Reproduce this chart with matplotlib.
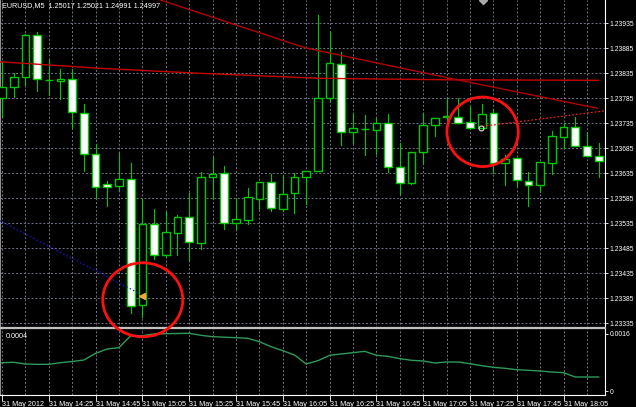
import numpy as np
import matplotlib.pyplot as plt
from matplotlib.patches import Rectangle, Ellipse

plt.rcParams['font.family'] = ['Liberation Sans', 'DejaVu Sans']

# EURUSD M5, 31 May 2012, first bar 14:05
opens = [1.23785, 1.23807, 1.23827, 1.23911, 1.23821, 1.23820, 1.23824, 1.23755, 1.23674, 1.23613,
         1.23610, 1.23623, 1.23372, 1.23533, 1.23471, 1.23516, 1.23547, 1.23496, 1.23628, 1.23635,
         1.23535, 1.23542, 1.23584, 1.23617, 1.23563, 1.23595, 1.23628, 1.23639, 1.23786, 1.23854,
         1.23717, 1.23724, 1.23722, 1.23735, 1.23647, 1.23615, 1.23677, 1.23731, 1.23747, 1.23748,
         1.23738, 1.23726, 1.23755, 1.23655, 1.23665, 1.23620, 1.23612, 1.23655, 1.23708, 1.23728,
         1.23690, 1.23670]
closes = [1.23807, 1.23827, 1.23911, 1.23824, 1.23821, 1.23824, 1.23758, 1.23674, 1.23608, 1.23608,
          1.23624, 1.23370, 1.23533, 1.23471, 1.23518, 1.23547, 1.23497, 1.23627, 1.23634, 1.23535,
          1.23543, 1.23587, 1.23617, 1.23566, 1.23594, 1.23628, 1.23640, 1.23786, 1.23855, 1.23717,
          1.23725, 1.23724, 1.23735, 1.23647, 1.23615, 1.23677, 1.23732, 1.23745, 1.23750, 1.23736,
          1.23726, 1.23754, 1.23655, 1.23664, 1.23622, 1.23612, 1.23657, 1.23710, 1.23728, 1.23690,
          1.23670, 1.23660]
highs = [1.23858, 1.23835, 1.23913, 1.23917, 1.23862, 1.23844, 1.23843, 1.23774, 1.23694, 1.23620,
         1.23675, 1.23656, 1.23584, 1.23564, 1.23558, 1.23552, 1.23595, 1.23637, 1.23667, 1.23650,
         1.23585, 1.23605, 1.23618, 1.23634, 1.23632, 1.23636, 1.23640, 1.23952, 1.23920, 1.23877,
         1.23755, 1.23752, 1.23745, 1.23754, 1.23695, 1.23678, 1.23755, 1.23746, 1.23788, 1.23785,
         1.23768, 1.23773, 1.23763, 1.23672, 1.23666, 1.23638, 1.23658, 1.23720, 1.23736, 1.23747,
         1.23718, 1.23695]
lows = [1.23748, 1.23788, 1.23812, 1.23800, 1.23792, 1.23784, 1.23725, 1.23640, 1.23588, 1.23570,
        1.23600, 1.23355, 1.23348, 1.23463, 1.23468, 1.23472, 1.23462, 1.23484, 1.23584, 1.23523,
        1.23523, 1.23534, 1.23564, 1.23560, 1.23560, 1.23555, 1.23573, 1.23639, 1.23780, 1.23692,
        1.23696, 1.23672, 1.23673, 1.23638, 1.23593, 1.23614, 1.23655, 1.23710, 1.23742, 1.23736,
        1.23726, 1.23726, 1.23636, 1.23612, 1.23610, 1.23570, 1.23597, 1.23633, 1.23685, 1.23690,
        1.23670, 1.23627]
# indicator sub-window
atr = [0.000794, 0.000806, 0.000758, 0.000749, 0.000749, 0.000794, 0.000828, 0.000870, 0.001058, 0.001179,
       0.001215, 0.001552, 0.001552, 0.001600, 0.001608, 0.001614, 0.001620, 0.001563, 0.001524, 0.001510,
       0.001496, 0.001479, 0.001384, 0.001243, 0.001131, 0.001011, 0.000758, 0.000851, 0.001002, 0.001039,
       0.001075, 0.001114, 0.001002, 0.000974, 0.000907, 0.000862, 0.000842, 0.000786, 0.000814, 0.000814,
       0.000766, 0.000710, 0.000665, 0.000637, 0.000598, 0.000581, 0.000561, 0.000533, 0.000514, 0.000393,
       0.000393, 0.000393]

# drawn objects (bar index, price)
ma_bars = [-0.17, 8.38, 16.9, 27.2, 38.2, 51.0]
ma_prices = [1.23858, 1.23845, 1.23835, 1.23825, 1.23822, 1.23821]
trend_bars = [12.6, 13.5, 19.7, 25.9, 38.7, 50.9]
trend_prices = [1.23988, 1.23982, 1.23934, 1.23886, 1.23823, 1.23765]
ray_bars = [41.1, 51.54]
ray_prices = [1.23729, 1.23760]
blue_bars = [-0.17, 11.62]
blue_prices = [1.23540, 1.23396]

price_ticks = [1.23335, 1.23385, 1.23435, 1.23485, 1.23535, 1.23585, 1.23635,
               1.23685, 1.23735, 1.23785, 1.23835, 1.23885, 1.23935]
time_ticks = [0, 4, 8, 12, 16, 20, 24, 28, 32, 36, 40, 44, 48]
time_labels = ['31 May 2012', '31 May 14:25', '31 May 14:45', '31 May 15:05', '31 May 15:25',
               '31 May 15:45', '31 May 16:05', '31 May 16:25', '31 May 16:45', '31 May 17:05',
               '31 May 17:25', '31 May 17:45', '31 May 18:05']

green = '#00c800'
gridc = '#6e7687'
fs = 5.2

fig = plt.figure(figsize=(6.36, 4.07), dpi=100)
fig.patch.set_facecolor('black')
W, H = 636, 407
ax = fig.add_axes([0, 1 - 328 / H, 605 / W, 328 / H])
ax2 = fig.add_axes([0, 1 - 395 / H, 605 / W, 67 / H])
ax.set_zorder(2)

for a in (ax, ax2):
    a.set_facecolor('black')
    a.set_xlim(-0.171, 51.54)
    a.set_xticks(range(0, 52, 2), minor=True)
    a.grid(True, which='both', color=gridc, linestyle=(0, (2, 2)), linewidth=0.7)
    a.set_axisbelow(True)
    a.spines['left'].set_color('#909090')
    a.spines['right'].set_color('white')
    a.spines['left'].set_linewidth(0.8)
    a.spines['right'].set_linewidth(0.8)
    a.yaxis.tick_right()
    a.tick_params(axis='y', colors='white', labelsize=4.9, length=2.5, width=0.6, pad=0.8)
    a.tick_params(axis='x', which='minor', length=0)

# main chart
ax.set_ylim(1.233256, 1.239816)
ax.set_yticks(price_ticks, [f'{p:.5f}' for p in price_ticks])
ax.set_xticks(time_ticks, [])
ax.tick_params(axis='x', length=0)
ax.spines['top'].set_visible(False)
ax.spines['bottom'].set_color('#c0c0c0')
ax.spines['bottom'].set_linewidth(1.6)

w = 0.66
for i in range(len(opens)):
    o, c = opens[i], closes[i]
    ax.plot([i, i], [lows[i], highs[i]], color=green, lw=0.8, zorder=3)
    face = 'black' if c >= o else 'white'
    ax.add_patch(Rectangle((i - w / 2, min(o, c)), w, abs(c - o), facecolor=face,
                           edgecolor=green, lw=1.0, zorder=4))

ax.plot(ma_bars, ma_prices, color='#c80000', lw=1.0, zorder=5)
ax.plot(trend_bars, trend_prices, color='#b40000', lw=1.0, zorder=5)
ax.plot(ray_bars, ray_prices, color='#e02020', lw=0.9, linestyle=(0, (1.5, 1.5)), zorder=5, clip_on=False)
ax.plot(blue_bars, blue_prices, color='#1818c8', lw=0.9, linestyle=(0, (1.2, 1.8)), zorder=5)
ax.plot(12.0, 1.23389, marker='<', color='#f0a838', ms=4, zorder=6)
ax.plot(40.9, 1.23726, marker='o', mfc='none', mec='#e0e0e0', ms=3.5, mew=0.8, zorder=6)
ax.plot(41.1, 1.239816, marker='D', color='#a8a8a8', ms=4, zorder=6)

ax.add_patch(Ellipse((12.03, 1.23382), 6.84, 0.00148, fill=False, edgecolor='#ff1010',
                     lw=2.0, zorder=7, clip_on=False))
ax.add_patch(Ellipse((41.08, 1.23718), 6.1, 0.00139, fill=False, edgecolor='#ff1010',
                     lw=2.0, zorder=7, clip_on=False))

ax.text(2 / 605, 1 - 5.7 / 328, 'EURUSD,M5  1.25017 1.25021 1.24991 1.24997',
        transform=ax.transAxes, color='white', fontsize=fs, va='center', ha='left')

# indicator window
ax2.set_ylim(-0.000112, 0.001768)
ax2.set_yticks([0, 0.0016], ['0', '0.0016'])
ax2.grid(False, axis='y')
ax2.spines['top'].set_visible(False)
ax2.spines['bottom'].set_color('white')
ax2.spines['bottom'].set_linewidth(0.8)
ax2.set_xticks(time_ticks, time_labels)
ax2.tick_params(axis='x', which='major', colors='white', labelsize=fs, length=4, width=0.6, pad=0.5)
for lbl in ax2.get_xticklabels():
    lbl.set_ha('left')
ax2.plot(range(len(atr)), atr, color='#2e9a5a', lw=1.0, zorder=3)
ax2.text(6 / 605, 1 - 8 / 67, '0.0004', transform=ax2.transAxes, color='white',
         fontsize=fs, va='center', ha='left')

fig.savefig('out.png', dpi=100, facecolor='black')
